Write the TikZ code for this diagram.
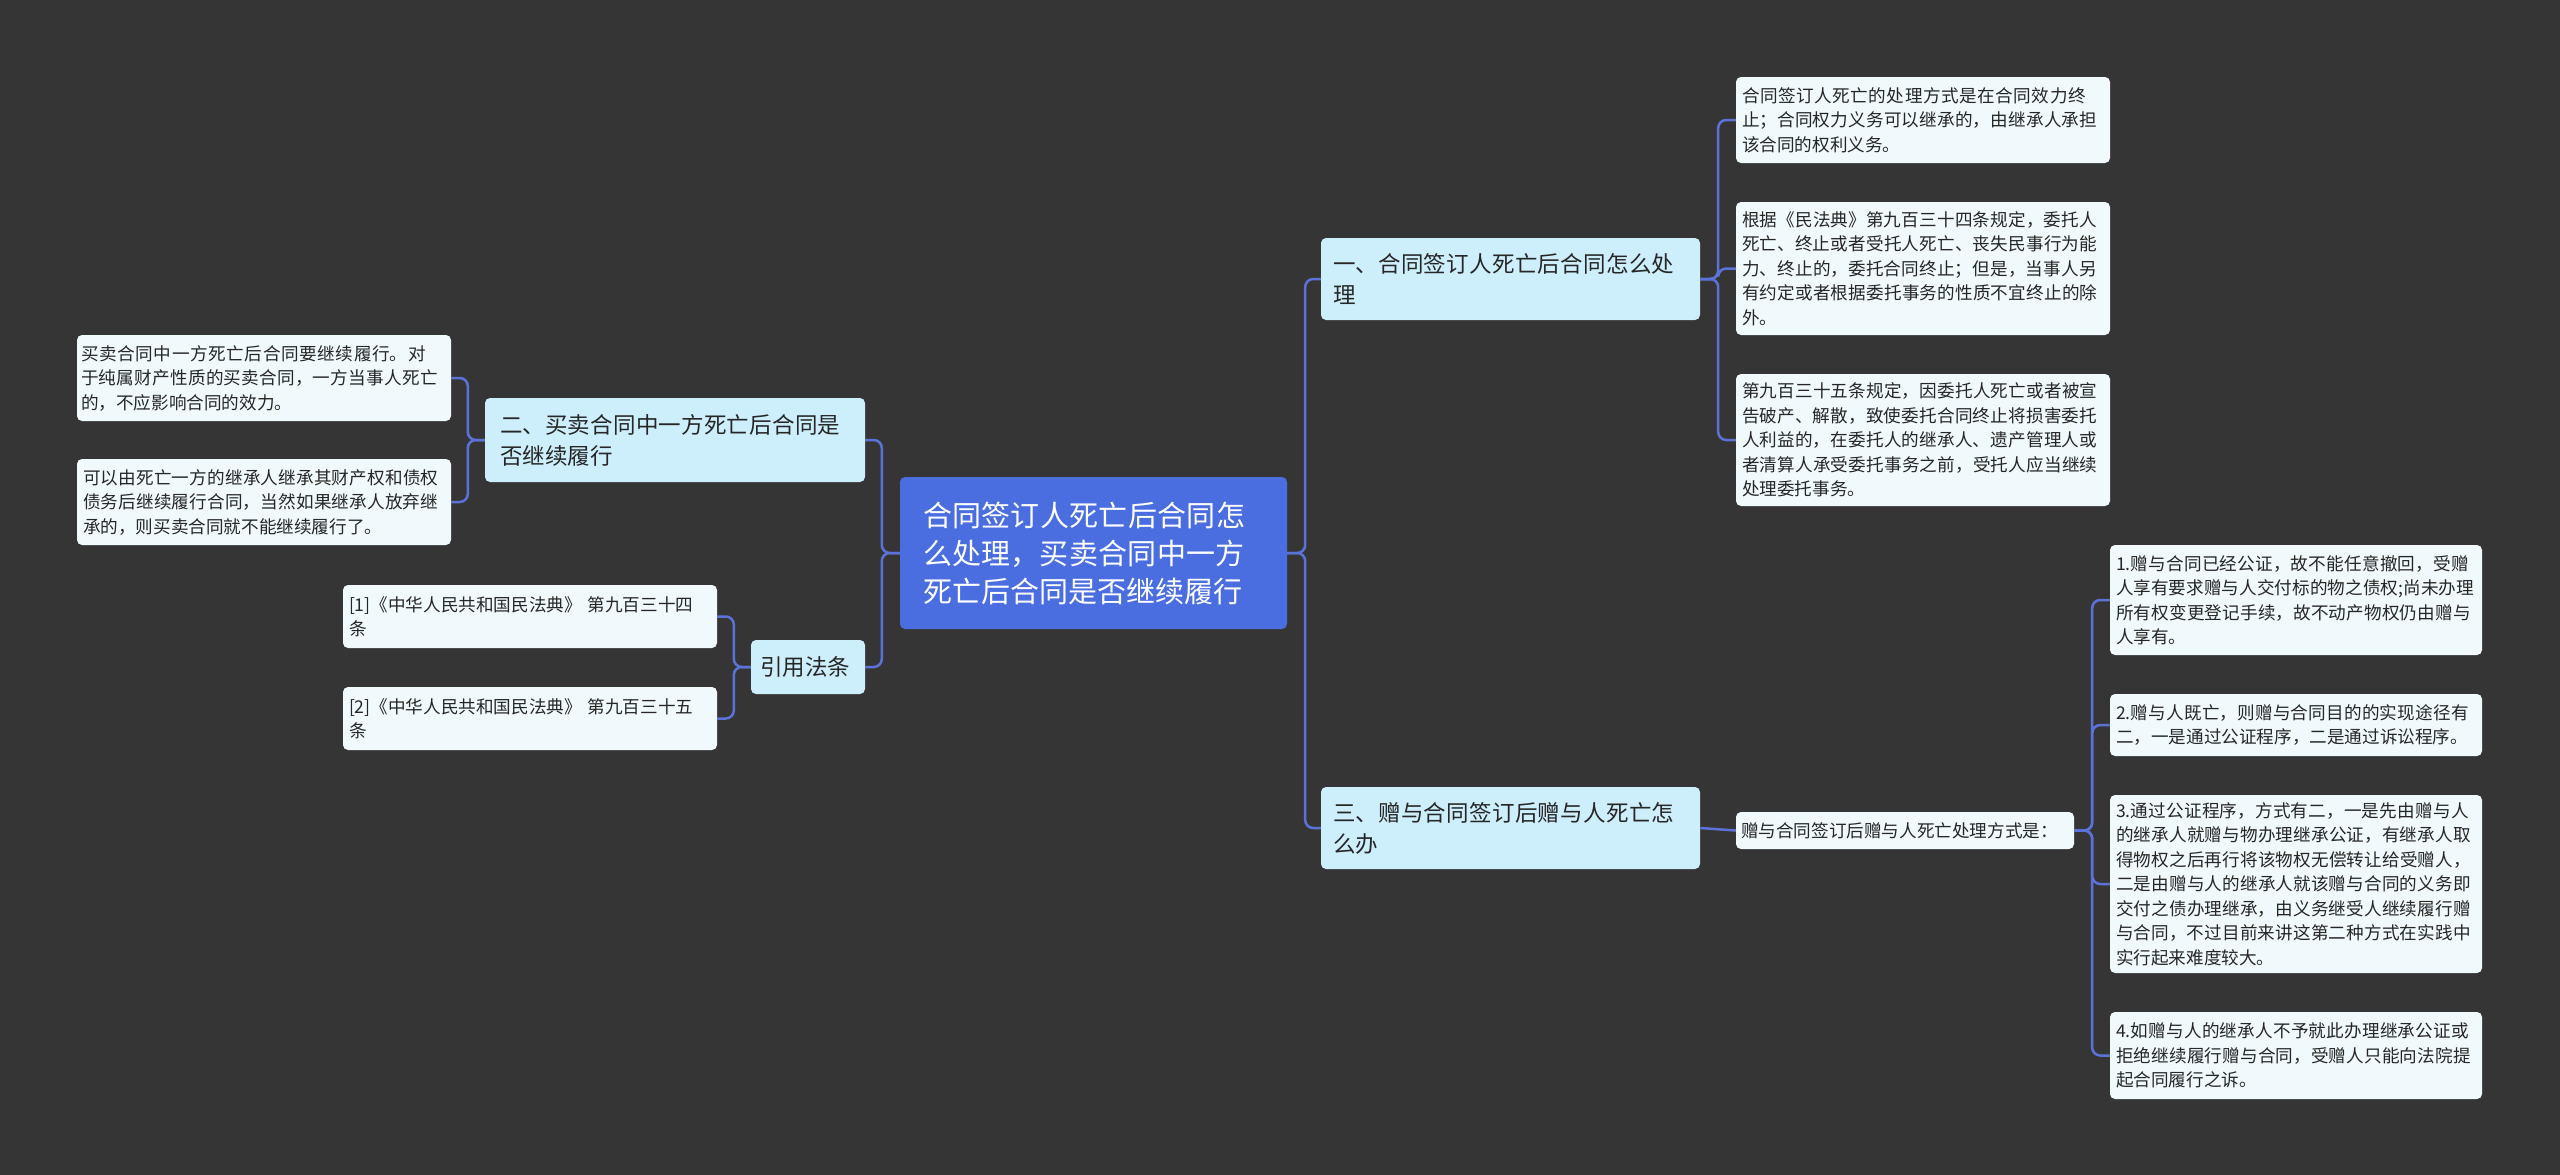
\documentclass[tikz,border=0pt]{standalone}
\usepackage{fontspec}
\setmainfont{Noto Sans CJK SC}
\XeTeXlinebreaklocale "zh"
\XeTeXlinebreakskip=0pt plus 1pt
\usetikzlibrary{calc}
\definecolor{bg}{HTML}{353535}
\definecolor{rootc}{HTML}{4A6EE0}
\definecolor{brc}{HTML}{CDEEFB}
\definecolor{leafc}{HTML}{F0FAFD}
\definecolor{linec}{HTML}{5B73D8}
\tikzset{x=1pt,y=-1pt,
 box/.style={draw=none,rounded corners=5pt,inner sep=0pt,align=left},
 leaf/.style={box,fill=leafc,font=\fontsize{17.6}{24.5}\selectfont,text=black!85},
 br/.style={box,fill=brc,font=\fontsize{22.5}{31}\selectfont,text=black!85},
 rt/.style={box,fill=rootc,font=\fontsize{29}{38}\selectfont,text=white},
 conn/.style={draw=linec,line width=2.5pt,rounded corners=8pt}}
\newcommand{\bx}[8]{% style,name,x1,y1,x2,y2,text,pad
 \node[#1,minimum width={#5-#3},minimum height={#6-#4},text width={#5-#3-#8}] (#2) at ({(#3+#5)/2},{(#4+#6)/2}) {#7};}
\begin{document}
\begin{tikzpicture}
\fill[bg] (0,0) rectangle (2560,1175);
\bx{rt}{root}{900}{477}{1287}{629}{合同签订人死亡后合同怎么处理，买卖合同中一方死亡后合同是否继续履行}{46}
\bx{br}{b1}{1321}{238}{1700}{320}{一、合同签订人死亡后合同怎么处理}{24}
\bx{br}{b2}{485}{398}{865}{482}{二、买卖合同中一方死亡后合同是否继续履行}{30}
\bx{br}{b4}{751}{640}{865}{694}{引用法条}{18}
\bx{br}{b3}{1321}{787}{1700}{869}{三、赠与合同签订后赠与人死亡怎么办}{24}
\bx{leaf}{r1}{1736}{77}{2110}{163}{合同签订人死亡的处理方式是在合同效力终止；合同权力义务可以继承的，由继承人承担该合同的权利义务。}{12}
\bx{leaf}{r2}{1736}{202}{2110}{335}{根据《民法典》第九百三十四条规定，委托人死亡、终止或者受托人死亡、丧失民事行为能力、终止的，委托合同终止；但是，当事人另有约定或者根据委托事务的性质不宜终止的除外。}{12}
\bx{leaf}{r3}{1736}{374}{2110}{506}{第九百三十五条规定，因委托人死亡或者被宣告破产、解散，致使委托合同终止将损害委托人利益的，在委托人的继承人、遗产管理人或者清算人承受委托事务之前，受托人应当继续处理委托事务。}{12}
\bx{leaf}{m1}{1736}{812}{2074}{849}{赠与合同签订后赠与人死亡处理方式是：}{10}
\bx{leaf}{s1}{2110}{545}{2482}{655}{1.赠与合同已经公证，故不能任意撤回，受赠人享有要求赠与人交付标的物之债权;尚未办理所有权变更登记手续，故不动产物权仍由赠与人享有。}{12}
\bx{leaf}{s2}{2110}{694}{2482}{756}{2.赠与人既亡，则赠与合同目的的实现途径有二，一是通过公证程序，二是通过诉讼程序。}{12}
\bx{leaf}{s3}{2110}{795}{2482}{973}{3.通过公证程序，方式有二，一是先由赠与人的继承人就赠与物办理继承公证，有继承人取得物权之后再行将该物权无偿转让给受赠人，二是由赠与人的继承人就该赠与合同的义务即交付之债办理继承，由义务继受人继续履行赠与合同，不过目前来讲这第二种方式在实践中实行起来难度较大。}{12}
\bx{leaf}{s4}{2110}{1012}{2482}{1099}{4.如赠与人的继承人不予就此办理继承公证或拒绝继续履行赠与合同，受赠人只能向法院提起合同履行之诉。}{12}
\bx{leaf}{l1}{77}{335}{451}{421}{买卖合同中一方死亡后合同要继续履行。对于纯属财产性质的买卖合同，一方当事人死亡的，不应影响合同的效力。}{8}
\bx{leaf}{l2}{77}{459}{451}{545}{可以由死亡一方的继承人继承其财产权和债权债务后继续履行合同，当然如果继承人放弃继承的，则买卖合同就不能继续履行了。}{12}
\bx{leaf}{f1}{343}{585}{717}{648}{[1]《中华人民共和国民法典》 第九百三十四\\条}{12}
\bx{leaf}{f2}{343}{687}{717}{750}{[2]《中华人民共和国民法典》 第九百三十五\\条}{12}
\foreach \c in {b1,b3}{\draw[conn] (root.east) -- ++(18,0) |- (\c.west);}
\foreach \c in {r1,r2,r3}{\draw[conn] (b1.east) -- ++(18,0) |- (\c.west);}
\draw[conn] (b3.east) -- (m1.west);
\foreach \c in {s1,s2,s3,s4}{\draw[conn] (m1.east) -- ++(18,0) |- (\c.west);}
\foreach \c in {b2,b4}{\draw[conn] (root.west) -- ++(-18,0) |- (\c.east);}
\foreach \c in {l1,l2}{\draw[conn] (b2.west) -- ++(-17,0) |- (\c.east);}
\foreach \c in {f1,f2}{\draw[conn] (b4.west) -- ++(-17,0) |- (\c.east);}
\end{tikzpicture}
\end{document}
